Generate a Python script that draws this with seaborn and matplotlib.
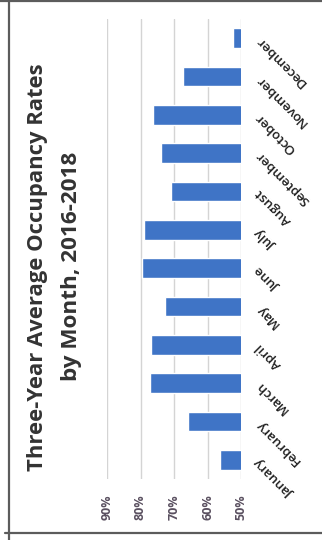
import matplotlib
matplotlib.use("Agg")
import matplotlib.pyplot as plt
from matplotlib.lines import Line2D
import seaborn as sns

# Three-year average occupancy, percent, by month
months = ["January", "February", "March", "April", "May", "June",
          "July", "August", "September", "October", "November", "December"]
occupancy = [56.3, 65.8, 77.2, 76.9, 72.7, 79.6, 79.0, 70.9, 73.9, 76.3, 67.3, 52.4]
tick_values = [50, 60, 70, 80, 90]
tick_labels = ["50%", "60%", "70%", "80%", "90%"]
title_lines = ["Three-Year Average Occupancy Rates", "by Month, 2016-2018"]

sns.set_theme(style="white")
plt.rcParams["font.family"] = ["Open Sans", "DejaVu Sans"]

W, H = 322, 540
fig = plt.figure(figsize=(W / 100, H / 100), dpi=100)
fig.patch.set_facecolor("white")

# page is turned sideways: value axis runs right-to-left, months bottom-to-top
ax = fig.add_axes([107 / W, 1 - 479 / H, 134 / W, 460 / H])
sns.barplot(x=occupancy, y=months, order=months[::-1], orient="h",
            color="#3F74C6", saturation=1, width=0.52, ax=ax)
ax.set_xlim(90, 50)
ax.set_ylim(11.5, -0.5)
ax.set_xlabel("")
ax.set_ylabel("")

ax.set_xticks(tick_values)
ax.set_xticklabels(tick_labels)
ax.grid(axis="x", color="#d4d4d4", linewidth=1.0)
ax.set_axisbelow(True)
for s in ax.spines.values():
    s.set_visible(False)

ax.tick_params(axis="x", length=0, pad=11, labelsize=9, labelcolor="#5a5060")
for lbl in ax.get_xticklabels():
    lbl.set_rotation(90)
    lbl.set_ha("center")
    lbl.set_va("top")
    lbl.set_fontweight("bold")

ax.yaxis.tick_right()
ax.tick_params(axis="y", length=0, pad=12, labelsize=9.5, labelcolor="#1e1e1e")
for lbl in ax.get_yticklabels():
    lbl.set_rotation(135)
    lbl.set_rotation_mode("anchor")
    lbl.set_ha("right")
    lbl.set_va("center")
    lbl.set_fontweight("semibold")

# title, reading upward along the left side
fig.text(38 / W, 1 - 267 / H, title_lines[0], rotation=90, ha="center", va="center",
         fontsize=15.8, fontweight="bold", color="#333333")
fig.text(71 / W, 1 - 266 / H, title_lines[1], rotation=90, ha="center", va="center",
         fontsize=16.2, fontweight="bold", color="#333333")

# outer frame
frame = dict(color="#5c5c5c", linewidth=1.6, transform=fig.transFigure)
fig.add_artist(Line2D([8.5 / W, 8.5 / W], [0, 1], **frame))
fig.add_artist(Line2D([0, 1], [1 - 1 / H, 1 - 1 / H], **frame))
fig.add_artist(Line2D([5 / W, 1], [1 - 533 / H, 1 - 533 / H], **frame))

fig.savefig("out.png", dpi=100)
